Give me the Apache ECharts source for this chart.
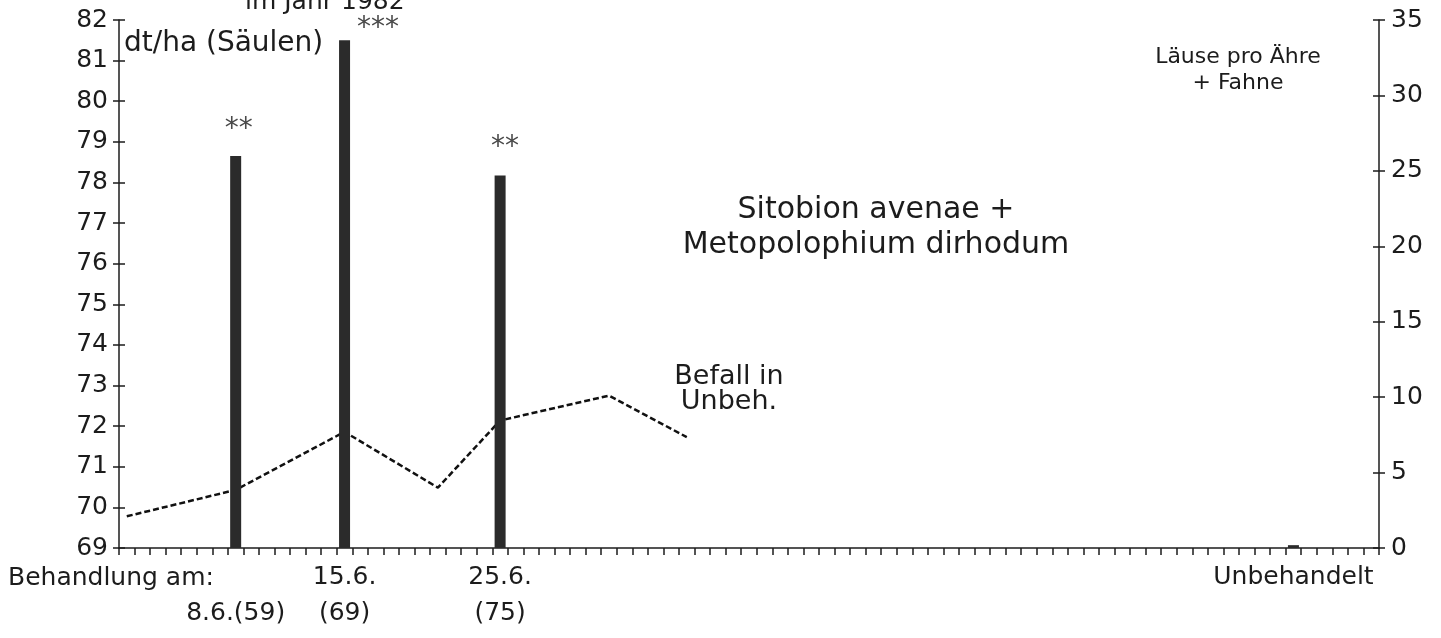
<!DOCTYPE html>
<html>
<head>
<meta charset="utf-8">
<script src="https://cdn.jsdelivr.net/npm/echarts@6/dist/echarts.min.js"></script>
<style>
  html, body { margin: 0; padding: 0; background: #fff; }
  #chart { width: 1441px; height: 638px; }
</style>
</head>
<body>
<div id="chart"></div>
<script>
// One category slot per day starting 1 June 1982; slot 75 holds the untreated plot
const dayCount = 81;
const untreatedSlot = 75;
const categories = [];
for (let i = 0; i < dayCount; i++) {
  const d = new Date(1982, 5, 1 + i);
  categories.push(i === untreatedSlot ? 'Unbehandelt' : d.getDate() + '.' + (d.getMonth() + 1) + '.');
}

// Grain yield per treatment date (dt/ha, columns)
const yieldCats = ['8.6.', '15.6.', '25.6.', 'Unbehandelt'];
const yieldValues = [78.65, 81.5, 78.17, 69.07];
const yieldSignificance = ['**', '***', '**', ''];

// Aphids per ear + flag leaf in the untreated plots (dashed line)
const countCats = ['1.6.', '8.6.', '15.6.', '21.6.', '25.6.', '2.7.', '7.7.'];
const countValues = [2.1, 3.85, 7.7, 4.0, 8.45, 10.1, 7.35];

// Axis scales and category tick labels
const yieldAxis = { min: 69, max: 82, interval: 1 };
const aphidAxis = { min: 0, max: 35, interval: 5 };
const xTickLabels = {
  '8.6.': '\n8.6.(59)',
  '15.6.': '15.6.\n(69)',
  '25.6.': '25.6.\n(75)',
  'Unbehandelt': 'Unbehandelt'
};

const FONT = '"DejaVu Sans", sans-serif';
const INK = '#1c1c1c';

const starLabel = {
  '8.6.': { show: true, position: 'top', distance: 12, offset: [3, 0] },
  '15.6.': { show: true, position: [18, -26] },
  '25.6.': { show: true, position: 'top', distance: 14, offset: [5, 0] },
  'Unbehandelt': { show: false }
};

const barData = categories.map(c => {
  const i = yieldCats.indexOf(c);
  if (i < 0) return '-';
  return {
    value: yieldValues[i],
    label: Object.assign({
      formatter: yieldSignificance[i],
      fontFamily: FONT, fontSize: 28, color: '#4a4a4a'
    }, starLabel[c])
  };
});

const lineData = categories.map(c => {
  const i = countCats.indexOf(c);
  return i < 0 ? null : countValues[i];
});

const axisLine = { show: true, lineStyle: { color: INK, width: 1.5 } };
const tickStyle = { color: INK, width: 1.5 };
const txt = (text, x, y, size, lineHeight, align) => ({
  type: 'text', x: x, y: y,
  style: {
    text: text, font: size + 'px ' + FONT, fill: INK,
    align: align || 'left', verticalAlign: 'middle', lineHeight: lineHeight || size
  }
});

const chart = echarts.init(document.getElementById('chart'), null, { renderer: 'canvas' });

chart.setOption({
  animation: false,
  backgroundColor: '#fff',
  grid: { left: 119, right: 62, top: 20, bottom: 90 },
  xAxis: {
    type: 'category',
    data: categories,
    boundaryGap: true,
    axisLine: axisLine,
    axisTick: { show: true, interval: 0, length: 7, lineStyle: tickStyle },
    axisLabel: {
      interval: 0,
      margin: 11,
      fontFamily: FONT, fontSize: 25, color: INK, lineHeight: 36,
      formatter: v => xTickLabels[v] || ''
    },
    splitLine: { show: false }
  },
  yAxis: [
    {
      type: 'value', position: 'left',
      min: yieldAxis.min, max: yieldAxis.max, interval: yieldAxis.interval,
      axisLine: axisLine,
      axisTick: { show: true, length: 6, lineStyle: tickStyle },
      axisLabel: { margin: 11, fontFamily: FONT, fontSize: 25, color: INK },
      splitLine: { show: false }
    },
    {
      type: 'value', position: 'right',
      min: aphidAxis.min, max: aphidAxis.max, interval: aphidAxis.interval,
      axisLine: axisLine,
      axisTick: { show: true, length: 6, lineStyle: tickStyle },
      axisLabel: { margin: 12, fontFamily: FONT, fontSize: 25, color: INK },
      splitLine: { show: false }
    },
    {
      type: 'value', position: 'left',
      min: yieldAxis.min, max: yieldAxis.max, interval: yieldAxis.interval,
      axisLine: { show: false },
      axisTick: { show: true, inside: true, length: 6, lineStyle: tickStyle },
      axisLabel: { show: false },
      splitLine: { show: false }
    },
    {
      type: 'value', position: 'right',
      min: aphidAxis.min, max: aphidAxis.max, interval: aphidAxis.interval,
      axisLine: { show: false },
      axisTick: { show: true, inside: true, length: 6, lineStyle: tickStyle },
      axisLabel: { show: false },
      splitLine: { show: false }
    }
  ],
  series: [
    {
      name: 'Befall in Unbeh.',
      type: 'line',
      yAxisIndex: 1,
      data: lineData,
      connectNulls: true,
      symbol: 'none',
      lineStyle: { color: '#111', width: 2.5, type: [6, 3] },
      z: 2
    },
    {
      name: 'dt/ha',
      type: 'bar',
      yAxisIndex: 0,
      data: barData,
      barWidth: 11,
      itemStyle: { color: '#2b2b2b' },
      z: 3
    }
  ],
  graphic: [
    txt('im Jahr 1982', 245, 2, 25),
    txt('dt/ha (Säulen)', 124, 44, 28),
    txt('Läuse pro Ähre\n+ Fahne', 1238, 70, 22, 26, 'center'),
    txt('Sitobion avenae +\nMetopolophium dirhodum', 876, 228, 30, 35, 'center'),
    txt('Befall in\nUnbeh.', 729, 389, 27, 25, 'center'),
    txt('Behandlung am:', 8, 578, 25)
  ]
});
</script>
</body>
</html>
